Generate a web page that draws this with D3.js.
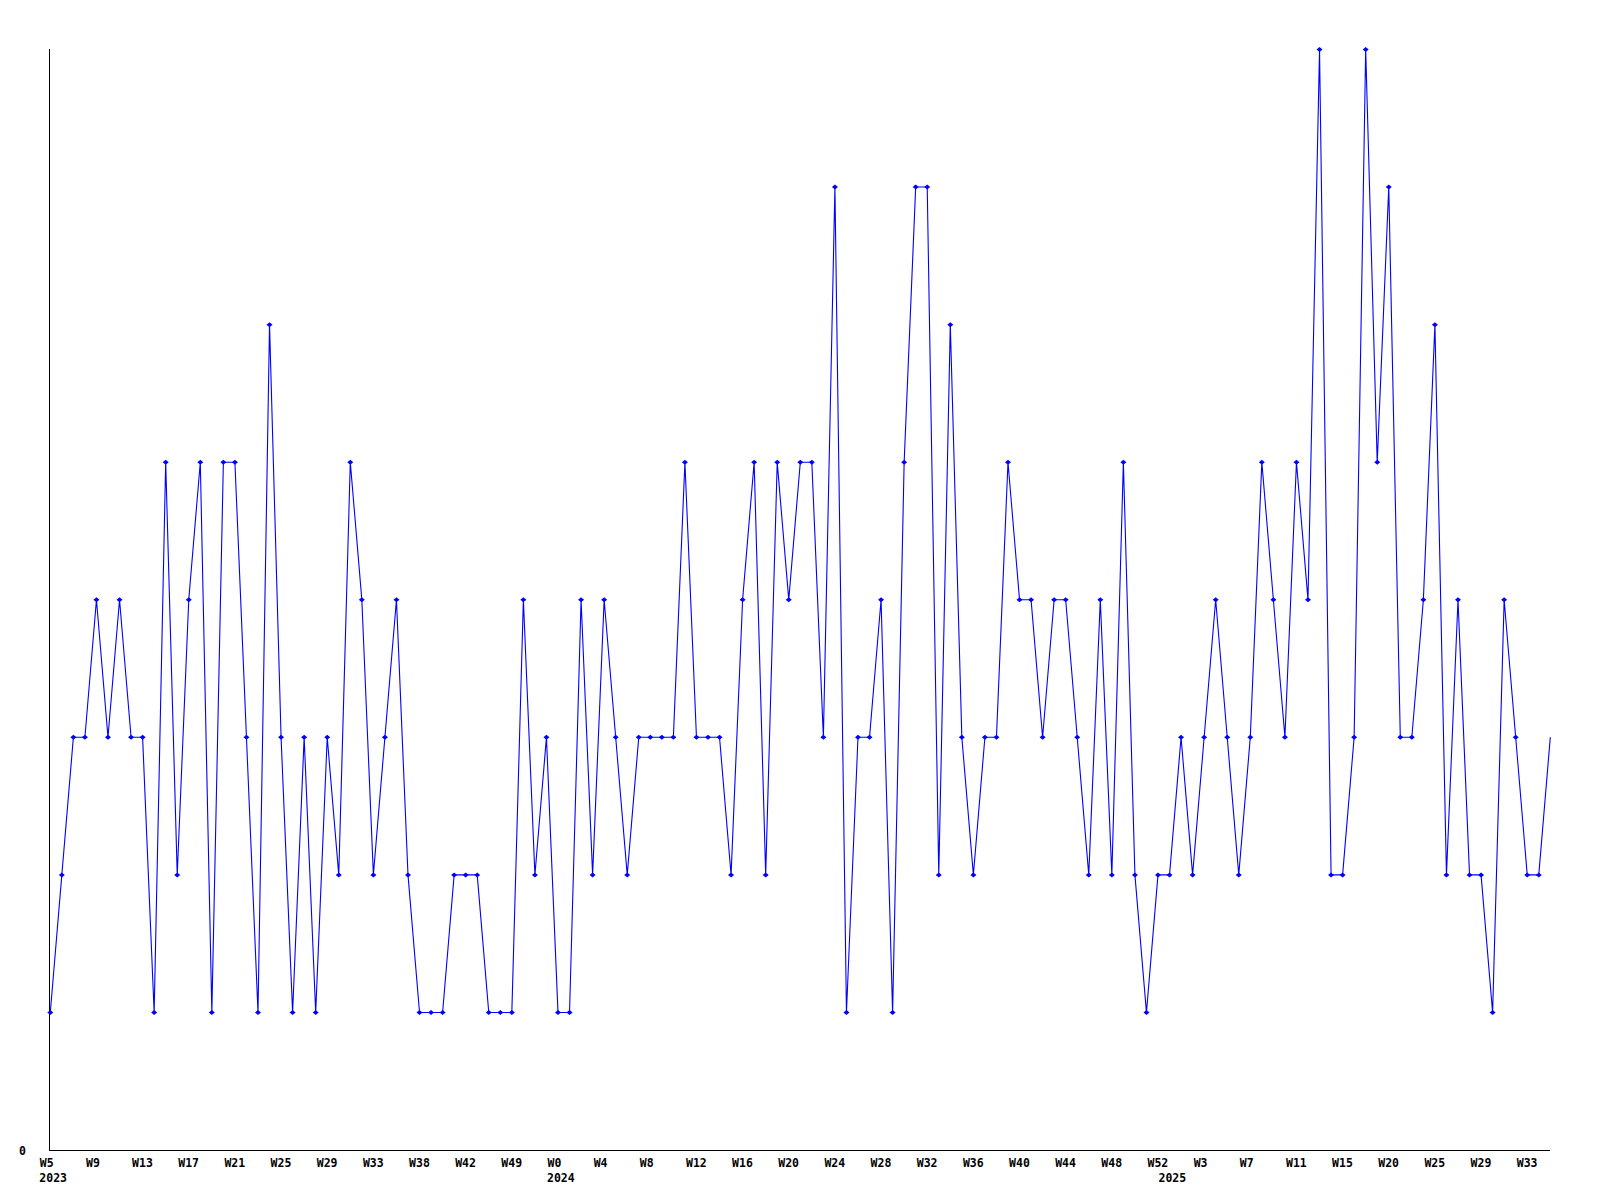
<!DOCTYPE html>
<html>
<head>
<meta charset="utf-8">
<script src="https://cdn.jsdelivr.net/npm/d3@7"></script>
<style>
  html, body { margin: 0; padding: 0; background: #ffffff; }
  svg { display: block; }
  .tick-label { font-family: "DejaVu Sans Mono", "Liberation Mono", monospace; font-weight: bold; font-size: 11.5px; fill: #000; }
</style>
</head>
<body>
<svg id="chart" width="1600" height="1200"></svg>
<script>
// Weekly values, 2023 W5 onward (one per week)
const values = [
  1, 2, 3, 3, 4, 3, 4, 3, 3, 1,
  5, 2, 4, 5, 1, 5, 5, 3, 1, 6,
  3, 1, 3, 1, 3, 2, 5, 4, 2, 3,
  4, 2, 1, 1, 1, 2, 2, 2, 1, 1,
  1, 4, 2, 3, 1, 1, 4, 2, 4, 3,
  2, 3, 3, 3, 3, 5, 3, 3, 3, 2,
  4, 5, 2, 5, 4, 5, 5, 3, 7, 1,
  3, 3, 4, 1, 5, 7, 7, 2, 6, 3,
  2, 3, 3, 5, 4, 4, 3, 4, 4, 3,
  2, 4, 2, 5, 2, 1, 2, 2, 3, 2,
  3, 4, 3, 2, 3, 5, 4, 3, 5, 4,
  8, 2, 2, 3, 8, 5, 7, 3, 3, 4,
  6, 2, 4, 2, 2, 1, 4, 3, 2, 2,
  3
];

// Tick labels, one every 4 weeks
const tickLabels = [
  "W5", "W9", "W13", "W17", "W21", "W25", "W29", "W33", "W38", "W42", "W49",
  "W0", "W4", "W8", "W12", "W16", "W20", "W24", "W28", "W32", "W36", "W40", "W44", "W48", "W52",
  "W3", "W7", "W11", "W15", "W20", "W25", "W29", "W33"
];
const tickWeeks = tickLabels.map((_, i) => i * 4);

// Year labels and the week index they sit under
const yearLabels = ["2023", "2024", "2025"];
const yearWeeks = [0, 44, 97];

const yTicks = [0];

const svg = d3.select("#chart");
const plotLeft = 50.3, plotRight = 1550.3, plotTop = 49.5, plotBottom = 1150;

const x = d3.scaleLinear().domain([0, values.length - 1]).range([plotLeft, plotRight]);
const y = d3.scaleLinear().domain([0, d3.max(values)]).range([plotBottom, plotTop]);

// Axes
const xAxis = d3.axisBottom(x)
  .tickValues(tickWeeks)
  .tickFormat((d, i) => tickLabels[i])
  .tickSize(0)
  .tickPadding(0);
const gx = svg.append("g").attr("transform", `translate(0,${plotBottom + 0.5})`).call(xAxis);
gx.select(".domain").attr("stroke", "#000").attr("shape-rendering", "crispEdges")
  .attr("d", `M${plotLeft - 1},0H${plotRight}`);
gx.selectAll(".tick text")
  .attr("class", "tick-label")
  .attr("text-anchor", "start")
  .attr("dx", -11)
  .attr("y", 16.5)
  .attr("dy", 0);

// Year labels
svg.append("g").selectAll("text")
  .data(yearLabels)
  .join("text")
  .attr("class", "tick-label")
  .attr("x", (d, i) => x(yearWeeks[i]) - 11)
  .attr("y", plotBottom + 32)
  .text(d => d);

const yAxis = d3.axisLeft(y).tickValues(yTicks).tickFormat(d3.format("d")).tickSize(0).tickPadding(0);
const gy = svg.append("g").attr("transform", `translate(${plotLeft - 0.8},0)`).call(yAxis);
gy.select(".domain").attr("stroke", "#000").attr("shape-rendering", "crispEdges")
  .attr("d", `M0,${plotTop - 0.5}V${plotBottom + 0.5}`);
gy.selectAll(".tick text")
  .attr("class", "tick-label")
  .attr("text-anchor", "end")
  .attr("x", -23.5)
  .attr("dy", 0)
  .attr("y", 4);

// Line
const line = d3.line().x((d, i) => x(i)).y(d => y(d));
svg.append("path")
  .datum(values)
  .attr("fill", "none")
  .attr("stroke", "#0000ff")
  .attr("stroke-width", 1.1)
  .attr("d", line);

// Markers (small diamonds)
svg.append("g").selectAll("path")
  .data(values.slice(0, values.length - 1))
  .join("path")
  .attr("d", (d, i) => {
    const cx = x(i), cy = y(d);
    return `M${cx - 3},${cy}L${cx},${cy - 2.5}L${cx + 3},${cy}L${cx},${cy + 2.5}Z`;
  })
  .attr("fill", "#0000ff");
</script>
</body>
</html>
